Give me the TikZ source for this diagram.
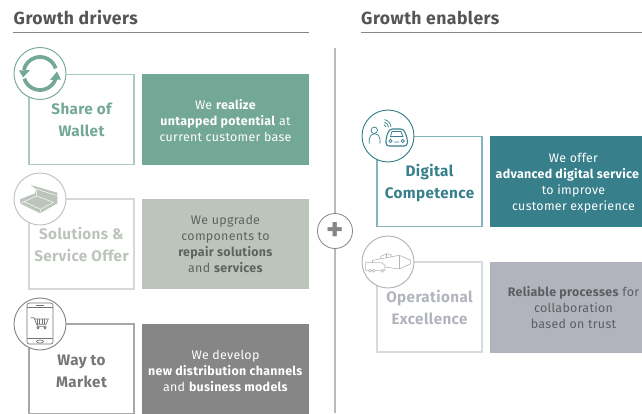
\documentclass[tikz,border=0pt]{standalone}
\usepackage{fontspec}
\setmainfont[LetterSpace=2.5]{Fira Sans}
\definecolor{wallet}{HTML}{74A896}
\definecolor{walletline}{HTML}{A9CBBF}
\definecolor{offer}{HTML}{BCC4BB}
\definecolor{offerline}{HTML}{D5D9D4}
\definecolor{offertext}{HTML}{5F635F}
\definecolor{market}{HTML}{868686}
\definecolor{marketline}{HTML}{A8A8A8}
\definecolor{markettext}{HTML}{767676}
\definecolor{digital}{HTML}{367F8B}
\definecolor{digitalline}{HTML}{85B4BC}
\definecolor{oper}{HTML}{B1B4BC}
\definecolor{operline}{HTML}{D8DAE0}
\definecolor{opertext}{HTML}{5C5E63}
\definecolor{head}{HTML}{555555}
\tikzset{
  titlebox/.style={draw,line width=1.2pt,minimum width=3.15cm,minimum height=2.7cm,align=center,
    font=\fontsize{13}{18.7}\selectfont\bfseries},
  panelbox/.style={minimum width=5.01cm,minimum height=2.72cm,align=center,
    font=\fontsize{10.6}{13.6}\selectfont},
  badge/.style={draw,circle,fill=white,line width=0.8pt,minimum size=1.56cm,inner sep=0pt},
  heading/.style={anchor=west,inner sep=0pt,text=head,font=\fontsize{15}{16}\selectfont\bfseries},
  icon/.style={line width=0.6pt},
}
\newcommand{\titletile}[5]{\node[titlebox,draw=#4line,text=#4] (#1) at (#2,#3) {#5};}
\newcommand{\paneltile}[6]{\node[panelbox,fill=#4,text=#5] (#1) at (#2,#3) {#6};}
\newcommand{\badgetile}[4]{\node[badge,draw=#4] (#1) at (#2,#3) {};}
\newcommand{\lift}[1]{\rule{0pt}{#1pt}}
\begin{document}
\begin{tikzpicture}[x=0.03cm,y=-0.03cm]
    \useasboundingbox (0,0) rectangle (642,413);
    \node[heading] (drivers) at (13.5,18) {Growth drivers};
    \node[heading] (enablers) at (361,18) {Growth enablers};
    \coordinate (driversL) at (13,32.5); \coordinate (driversR) at (308.5,32.5);
    \coordinate (enablersL) at (361,32.5); \coordinate (enablersR) at (642,32.5);
    \draw[color=market,line width=0.8pt] (driversL) -- (driversR);
    \draw[color=market,line width=0.8pt] (enablersL) -- (enablersR);
    % middle line
    \coordinate (lineT) at (335,48); \coordinate (lineB) at (335,413);
    \node[draw=market,circle,line width=0.7pt,minimum size=1.05cm,inner sep=0pt,text=market,font=\fontsize{28}{28}\selectfont\bfseries] (plus) at (335,231) {+};
    \draw[color=marketline!80,line width=1.2pt] (lineT) -- (plus);
    \draw[color=marketline!80,line width=1.2pt] (plus) -- (lineB);
    % drivers
    \titletile{share}{81.5}{119.5}{wallet}{\lift{11}Share of\\Wallet}
    \paneltile{shareT}{225.5}{119.5}{wallet}{white}{\lift{10}We \textbf{realize}\\\textbf{untapped potential} at\\current customer base}
    \titletile{solutions}{81.5}{244}{offer}{\lift{10.5}Solutions \&\\Service Offer}
    \paneltile{solutionsT}{225.5}{244}{offer}{offertext}{We upgrade\\components to\\\textbf{repair solutions}\\and \textbf{services}}
    \titletile{way}{81.5}{369}{market}{\lift{12.5}\textcolor{markettext}{Way to}\\\textcolor{markettext}{Market}}
    \paneltile{wayT}{225.5}{369}{market}{white}{\lift{11}We develop\\\textbf{new distribution channels}\\and \textbf{business models}}
    % enablers
    \titletile{compet}{429.5}{181.5}{digital}{\lift{13}Digital\\Competence}
    \paneltile{competT}{573.5}{181.5}{digital}{white}{\lift{11}We offer\\\textbf{advanced digital service\phantom{ss}}\\to improve\\customer experience}
    \titletile{excel}{429.5}{307}{oper}{Operational\\Excellence}
    \paneltile{excelT}{573.5}{307.5}{oper}{opertext}{\textbf{Reliable processes} for\\collaboration\\based on trust}
    % badges
    \badgetile{shareB}{40}{73.5}{wallet}
    \badgetile{solutionsB}{40}{199}{offer}
    \badgetile{wayB}{40}{324}{market}
    \badgetile{competB}{388}{136}{digital}
    \badgetile{excelB}{388}{262}{oper}
    % icons
    \begin{scope}[shift={(shareB.center)},wallet]
      \draw[line width=3.2pt] (-18:16.5) arc (-18:-168:16.5);
      \draw[line width=3.2pt] (162:16.5) arc (162:18:16.5);
      \fill (-21,-3) -- (-10,-3.5) -- (-17,4) -- cycle;
      \fill (21,6) -- (10,6.5) -- (17,-2) -- cycle;
    \end{scope}
    \begin{scope}[shift={(solutionsB.center)}]
      \fill[offer] (-9.3,-14) -- (17.3,-6.3) -- (17.3,4.3) -- (0,14.3) -- (-20,4.3) -- (-20,0.3) -- (-5,-5.7) -- (-4,-9.7) -- cycle;
      \draw[white,line width=0.4pt] (-16,2.7) -- (-3.3,-3) -- (13.3,3.3) -- (0.7,10.3) -- cycle;
      \draw[white,line width=0.4pt] (-4,-10) -- (16.7,-3.5);
      \draw[white,line width=0.4pt] (-20,4.3) -- (-16,2.7) (0,14.3) -- (0.7,10.3) (-3.3,-3) -- (-4,-10);
    \end{scope}
    \begin{scope}[shift={(wayB.center)},markettext,icon]
      \draw[rounded corners=2pt] (-13,-21) rectangle (13,20);
      \draw (-13,-16.5) -- (13,-16.5) (-13,14.5) -- (13,14.5);
      \draw (-4,-19) -- (4,-19);
      \draw (0,17.5) ellipse (3.5 and 1.5);
      \draw (-9.3,-6.3) -- (-6,-6.3) -- (-3.3,0.3) -- (6,0.3) -- (8.3,-5) -- (-5.7,-5);
      \draw (-3.3,0.3) -- (-2.5,2.3) -- (6,2.3);
      \foreach \xs in {-3,-0.5,2,4.5} {\draw[line width=0.4pt] (\xs,-5) -- (\xs,0.3);}
      \draw (-2,3.7) circle (1.2) (5,3.7) circle (1.2);
    \end{scope}
    \begin{scope}[shift={(competB.center)},digital,icon]
      \draw (-13.7,-5.7) circle (3.2);
      \draw (-18.7,7.7) -- (-18.7,3) arc (180:360:5.35) -- (-8,7.7);
      \draw[line width=0.9pt,rounded corners=2.5pt] (-2,10) -- (-2,2) -- (1.5,-7) -- (15.5,-7) -- (19.3,2) -- (19.3,10) -- cycle;
      \draw (2.5,0.5) -- (4,-4.5) -- (13,-4.5) -- (15,0.5) -- cycle;
      \draw (2.5,5) circle (1.6) (14.8,5) circle (1.6) (6,6) -- (11,6);
      \draw (-5,-8.5) ++(-70:3) arc (-70:-10:3);
      \draw (-5,-8.5) ++(-75:5.5) arc (-75:-5:5.5);
      \draw (-5,-8.5) ++(-80:8) arc (-80:-5:8);
    \end{scope}
    \begin{scope}[shift={(excelB.center)},oper,line width=0.5pt]
      \draw (-15.3,-1.7) -- (11.3,-6.7) -- (22.7,-1.7) -- (22.7,1.7) -- (11.3,7) -- (-3,5);
      \draw (11.3,-6.7) -- (11.3,7);
      \draw (-22.3,8.3) -- (-22.3,0.7) -- (-6.3,0.7) -- (-3,3.3) -- (-3,8.3) -- cycle;
      \draw (-15.3,-1.7) -- (-15.3,0.7);
      \draw (-7.3,-3.2) -- (-7.3,-5.5) -- (-1.3,-8.3) -- (3,-7.3) -- (3,-4.7);
      \draw (-1.3,-8.3) -- (-1.3,-4);
      \draw[fill=white] (-18,8.7) circle (1.5) (-14.5,8.7) circle (1.5) (-5.5,8.7) circle (1.5);
    \end{scope}
\end{tikzpicture}
\end{document}
